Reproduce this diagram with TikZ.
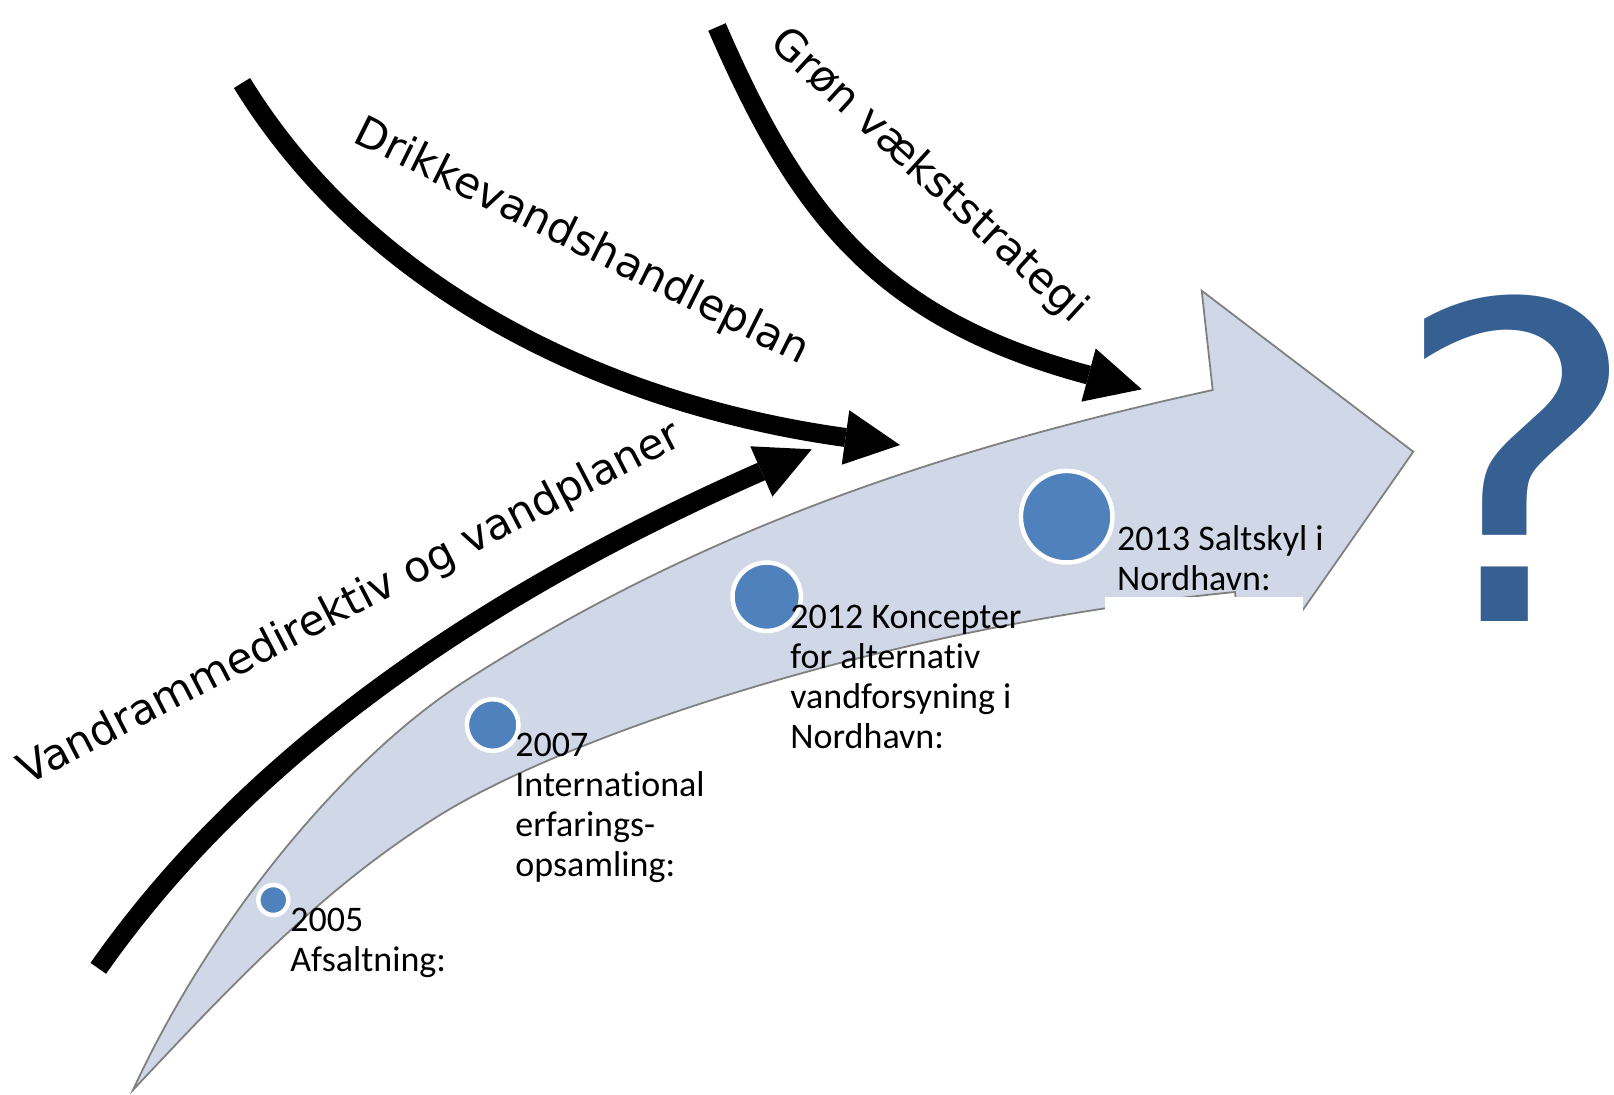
\documentclass[tikz,border=0pt]{standalone}
\usepackage{fontspec}
\setmainfont{Carlito}[Ligatures=NoCommon]
\newfontfamily\djv{DejaVu Sans}
\usetikzlibrary{arrows.meta}
\definecolor{bandfill}{HTML}{D0D8E8}
\definecolor{bandline}{HTML}{808080}
\definecolor{dotblue}{HTML}{4F81BD}
\definecolor{qblue}{HTML}{376092}
\begin{document}
\begin{tikzpicture}[x=0.5pt,y=-0.5pt,
  fatarrow/.style={line width=9.5pt,-{Triangle[length=27.5pt,width=27.5pt,line width=0pt]}},
  dotnode/.style={circle,fill=dotblue,draw=white,line width=2.25pt,inner sep=0pt,outer sep=0pt},
  yearlbl/.style={font=\fontsize{18}{20}\selectfont,anchor=base west,inner sep=0pt},
  rotlbl/.style={font=\djv\fontsize{21.3}{25}\selectfont,anchor=base,inner sep=0pt}]
\useasboundingbox (0,0) rectangle (1614,1094);
\clip (0,0) rectangle (1614,1094);
% big curved arrow
\draw[bandline,fill=bandfill,line width=0.9pt,line join=miter]
 (133,1090) .. controls (208.2,926.4) and (340.4,760.9) .. (466.7,680)
 .. controls (719.3,518.3) and (968.7,443.8) .. (1212.7,390)
 -- (1201.7,290.7) -- (1413.3,451.7) -- (1246,691.3) -- (1235,592)
 .. controls (886.8,626.3) and (567.5,736) .. (440,815)
 .. controls (321,888.8) and (229,988) .. cycle;
\fill[white] (1105,596.7) rectangle (1303.3,700);
% black arrows
\coordinate (a1s) at (98.3,968.3);
\coordinate (a1e) at (811.7,449.3);
\coordinate (a2s) at (242,83);
\coordinate (a2e) at (900,445);
\coordinate (a3s) at (717,27);
\coordinate (a3e) at (1141.7,389.3);
\draw[fatarrow] (a1s) .. controls (259,739) and (509.8,582.3) .. (a1e);
\draw[fatarrow] (a2s) .. controls (367.5,287.5) and (603,404) .. (a2e);
\draw[fatarrow] (a3s) .. controls (797,211) and (876,318) .. (a3e);
% rotated labels
\node[rotlbl,rotate=27.5] (l1) at (356,615) {Vandrammedirektiv og vandplaner};
\node[rotlbl,rotate=-26.5] (l2) at (576,253) {Drikkevandshandleplan};
\node[rotlbl,rotate=-42.5] (l3) at (920,185) {Grøn vækststrategi};
% milestones
\node[dotnode,minimum size=15pt] (d1) at (273.3,900) {};
\node[dotnode,minimum size=25.8pt] (d2) at (492.7,725) {};
\node[dotnode,minimum size=34.2pt] (d3) at (766.7,596.7) {};
\node[dotnode,minimum size=45.8pt] (d4) at (1066.7,516.7) {};
\node[yearlbl] (t1) at (290,931.7) {\parbox[t]{200pt}{2005\\Afsaltning:}};
\node[yearlbl] (t2) at (515,756.7) {\parbox[t]{200pt}{2007\\International\\erfarings-\\opsamling:}};
\node[yearlbl] (t3) at (790,628.3) {\parbox[t]{200pt}{2012 Koncepter\\for alternativ\\vandforsyning i\\Nordhavn:}};
\node[yearlbl] (t4) at (1116.7,550) {\parbox[t]{200pt}{2013 Saltskyl i\\Nordhavn:}};
% question mark
\node[font=\djv\fontsize{220}{225}\selectfont,text=qblue,anchor=base,inner sep=0pt,xscale=1.08] (q) at (1517,621.7) {?};
\end{tikzpicture}
\end{document}
